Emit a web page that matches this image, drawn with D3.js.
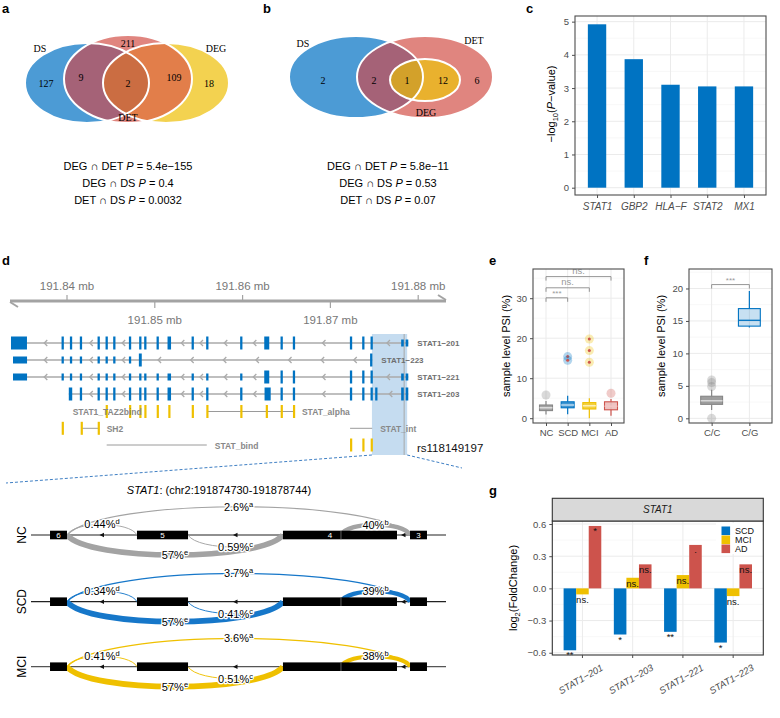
<!DOCTYPE html>
<html><head><meta charset="utf-8">
<script src="https://cdn.jsdelivr.net/npm/d3@7"></script>
<style>body{margin:0;background:#fff}svg{display:block}</style>
</head><body><svg id="fig" width="780" height="718"></svg>
<script>
// ================= DATA =================
// a / b : Venn counts
const vennRegionsA = ["DS","DET","DEG","DS∩DET","DEG∩DET","DS∩DEG∩DET"];
const vennCountsA  = [127, 211, 18, 9, 109, 2];
const vennRegionsB = ["DS","DS∩DET","DS∩DEG∩DET","DEG∩DET","DET"];
const vennCountsB  = [2, 2, 1, 12, 6];
const testPairs = ["DEG ∩ DET","DEG ∩ DS","DET ∩ DS"];
const pValuesA  = ["5.4e−155","0.4","0.0032"];
const pValuesB  = ["5.8e−11","0.53","0.07"];
// c : enrichment
const genesC   = ["STAT1","GBP2","HLA−F","STAT2","MX1"];
const negLogP  = [4.92, 3.87, 3.10, 3.05, 3.05];
// d : gene model (Mb)
const axisTicksTop    = [191.84, 191.86, 191.88];
const axisTicksBottom = [191.85, 191.87];
const transcriptNames = ["STAT1−201","STAT1−223","STAT1−221","STAT1−203"];
// exons: [centre Mb, length bp, coding 1/0]
const exons201 = [[191.83453,1820,1],[191.83951,260,1],[191.84046,260,1],[191.84159,260,1],[191.84361,260,1],[191.84452,260,1],[191.84539,260,1],[191.84718,260,1],[191.84835,260,1],[191.84892,260,1],[191.85033,260,1],[191.85165,400,1],[191.85432,260,1],[191.85598,260,1],[191.85985,260,1],[191.86275,570,1],[191.86445,260,1],[191.86585,260,1],[191.87235,260,1],[191.87375,260,1],[191.87470,260,1],[191.87821,300,0],[191.87872,300,0]];
const exons223 = [[191.83465,1600,0],[191.83951,260,0],[191.84046,260,0],[191.84159,260,0],[191.84361,260,0],[191.84452,260,0],[191.84539,260,0],[191.84718,260,0],[191.84835,330,1],[191.87465,260,1]];
const exons221 = [[191.83465,1600,0],[191.83951,260,0],[191.84046,260,0],[191.84159,260,0],[191.84361,260,0],[191.84452,260,0],[191.84539,260,0],[191.84718,260,0],[191.84835,260,0],[191.84892,260,0],[191.85033,260,0],[191.85165,400,0],[191.85432,260,0],[191.85598,260,0],[191.85985,260,0],[191.86275,570,1],[191.86445,260,1],[191.86585,260,1],[191.87235,260,1],[191.87375,260,1],[191.87470,260,1],[191.87821,300,0],[191.87872,300,0]];
const exons203 = [[191.84040,390,1],[191.84159,260,1],[191.84361,260,1],[191.84452,260,1],[191.84539,260,1],[191.84718,260,1],[191.84835,260,1],[191.84892,260,1],[191.85033,260,1],[191.85165,400,1],[191.85432,260,1],[191.85598,260,1],[191.85985,260,1],[191.86285,700,1],[191.86445,260,1],[191.86585,260,1],[191.87235,260,1],[191.87375,260,1],[191.87470,260,1],[191.87523,260,1],[191.87821,300,1],[191.87872,300,1]];
const domainNames = ["STAT1_TAZ2bind","STAT_alpha","SH2","STAT_int","STAT_bind",""];
const domainRows  = [0,0,1,1,2,2];
const domainParts = [
  [191.84452,191.84718,191.84835,191.84892,191.85033,191.85165,191.85432],
  [191.85598,191.85985,191.86275,191.86445,191.86585],
  [191.83951,191.84167,191.84361],
  [],
  [],
  [191.87235,191.87375,191.87470]];
const domainSpans = [null,[191.85598,191.86585],[191.84167,191.84361],[191.87224,191.87476],[191.84452,191.85592],null];
const highlightRegion = [191.874730, 191.878744];
const snpPos = 191.87840;
const snpName = "rs118149197";
// d : sashimi
const spliceGroups = ["NC","SCD","MCI"];
const spliceExonNames = ["6","5","4","3"];
const spliceExonStart = [191874914,191875755,191877167,191878396];
const spliceExonEnd   = [191875078,191876249,191878270,191878560];
const exon4Split = 191877728;
const junctionIds   = ["a","b","c","d","e"];
const junctionStart = [191875078,191877728,191876249,191875078,191875078];
const junctionEnd   = [191878396,191878396,191877167,191875755,191877167];
const junctionSide  = [-1,-1,1,-1,1];
const psiNC  = [2.6, 40, 0.59, 0.44, 57];
const psiSCD = [3.7, 39, 0.41, 0.34, 57];
const psiMCI = [3.6, 38, 0.51, 0.41, 57];
// e : PSI by diagnosis
const groupsE = ["NC","SCD","MCI","AD"];
const lowE  = [0.9, 1.0, 0.0, 0.6];
const q1E   = [1.9, 2.6, 2.3, 2.1];
const medE  = [2.6, 3.3, 3.1, 3.0];
const q3E   = [3.3, 4.1, 3.9, 4.1];
const highE = [4.3, 5.6, 5.0, 4.8];
const outE  = [[5.8],[15.4,14.5],[19.8,16.9,14.0],[6.25]];
const bracketsE = [["NC","SCD","***",30.1],["NC","MCI","ns.",32.6],["NC","AD","ns.",35.4]];
// f : PSI by genotype
const groupsF = ["C/C","C/G"];
const lowF  = [1.3, 14.0];
const q1F   = [2.15, 14.2];
const medF  = [2.7, 15.1];
const q3F   = [3.4, 16.9];
const highF = [4.4, 19.6];
const outF  = [[4.9,5.5,5.9,0],[]];
// g : fold change
const isoforms = ["STAT1−201","STAT1−203","STAT1−221","STAT1−223"];
const fcGroups = ["SCD","MCI","AD"];
const fcSCD = [-0.577,-0.430,-0.405,-0.505];
const fcMCI = [-0.056, 0.099, 0.124,-0.072];
const fcAD  = [ 0.582, 0.224, 0.405, 0.224];
const sigSCD = ["**","*","**","*"];
const sigMCI = ["ns.","ns.","ns.","ns."];
const sigAD  = ["*","ns.",".","ns."];

// ================= DRAWING =================
const SANS = "'Liberation Sans', Arial, Helvetica, sans-serif";
const SERIF = "'Liberation Serif', 'Times New Roman', serif";
const BLUE="#0073C2", YEL="#EFC000", GREY="#868686", RED="#CD534C";
const GRID="#ebebeb", GRIDMIN="#f4f4f4", AXC="#4d4d4d";
const svg = d3.select("#fig").attr("font-family",SANS);
const defs = svg.append("defs");

function plabel(t,x,y){svg.append("text").attr("x",x).attr("y",y).attr("font-weight","bold").attr("font-size",13).text(t);}
plabel("a",2,13); plabel("b",263,13); plabel("c",526,13); plabel("d",2,265);
plabel("e",489,265); plabel("f",644,265); plabel("g",489,495);

// ---------- Venn helpers ----------
function ell(g,e){return g.append("ellipse").attr("cx",e.cx).attr("cy",e.cy).attr("rx",e.rx).attr("ry",e.ry);}
function clip(id,e){ell(defs.append("clipPath").attr("id",id),e);}
function vtxt(g,x,y,t,size){return g.append("text").attr("x",x).attr("y",y).attr("text-anchor","middle").attr("font-family",SERIF).attr("font-size",size||10).text(t);}
function pLines(cx, vals){
  testPairs.forEach((p,i)=>{
    const t=svg.append("text").attr("x",cx).attr("y",170+i*16.8).attr("text-anchor","middle").attr("font-size",11);
    t.append("tspan").text(p+" ");
    t.append("tspan").attr("font-style","italic").text("P");
    t.append("tspan").text("  = "+vals[i]);
  });
}

// ---------- a ----------
const gA = svg.append("g");
const eA = {DS:{cx:87,cy:83,rx:62,ry:40},DET:{cx:128,cy:79,rx:64,ry:44},DEG:{cx:166,cy:83,rx:63,ry:40}};
clip("cA_DS",eA.DS); clip("cA_DEG",eA.DEG);
ell(gA,eA.DS).attr("fill","#4C9BD5");
ell(gA,eA.DEG).attr("fill","#F3D250");
ell(gA,eA.DET).attr("fill","#E0857F");
ell(gA.append("g").attr("clip-path","url(#cA_DS)"),eA.DET).attr("fill","#A56277");
ell(gA.append("g").attr("clip-path","url(#cA_DEG)"),eA.DET).attr("fill","#E27E4A");
ell(gA.append("g").attr("clip-path","url(#cA_DS)").append("g").attr("clip-path","url(#cA_DEG)"),eA.DET).attr("fill","#CB6D42");
[eA.DS,eA.DET,eA.DEG].forEach(e=>ell(gA,e).attr("fill","none").attr("stroke","#fff").attr("stroke-width",2));
const posA = {"DS":[46,87],"DET":[128,47],"DEG":[209,87],"DS∩DET":[81,81],"DEG∩DET":[174,81],"DS∩DEG∩DET":[128,87]};
vennRegionsA.forEach((r,i)=>vtxt(gA,posA[r][0],posA[r][1],vennCountsA[i]));
vtxt(gA,40,52,"DS"); vtxt(gA,216,52,"DEG"); vtxt(gA,128,121,"DET");
pLines(128,pValuesA);

// ---------- b ----------
const gB = svg.append("g");
const eB = {DS:{cx:356,cy:77,rx:67,ry:41},DET:{cx:425,cy:77,rx:68,ry:41},DEG:{cx:425,cy:80,rx:35,ry:21}};
clip("cB_DS",eB.DS);
ell(gB,eB.DS).attr("fill","#4C9BD5");
ell(gB,eB.DET).attr("fill","#E0857F");
ell(gB.append("g").attr("clip-path","url(#cB_DS)"),eB.DET).attr("fill","#A56277");
ell(gB,eB.DEG).attr("fill","#E9B12E");
ell(gB.append("g").attr("clip-path","url(#cB_DS)"),eB.DEG).attr("fill","#D3A12A");
[eB.DS,eB.DET,eB.DEG].forEach(e=>ell(gB,e).attr("fill","none").attr("stroke","#fff").attr("stroke-width",2));
const posB = {"DS":[323,84],"DS∩DET":[374,84],"DS∩DEG∩DET":[407,84],"DEG∩DET":[443,84],"DET":[477,84]};
vennRegionsB.forEach((r,i)=>vtxt(gB,posB[r][0],posB[r][1],vennCountsB[i]));
vtxt(gB,303,47,"DS"); vtxt(gB,474,44,"DET"); vtxt(gB,426,116,"DEG");
pLines(388,pValuesB);

// ---------- generic helpers for ggplot-like panels ----------
function styleAxis(sel,size){
  sel.select(".domain").remove();
  sel.selectAll(".tick line").attr("stroke",AXC);
  sel.selectAll(".tick text").attr("fill",AXC).attr("font-size",size||9.5).attr("font-family",SANS);
}
function grid(g,x0,x1,y0,y1,yScale,major,minor,xs){
  minor.forEach(v=>g.append("line").attr("x1",x0).attr("x2",x1).attr("y1",yScale(v)).attr("y2",yScale(v)).attr("stroke",GRIDMIN).attr("stroke-width",0.6));
  major.forEach(v=>g.append("line").attr("x1",x0).attr("x2",x1).attr("y1",yScale(v)).attr("y2",yScale(v)).attr("stroke",GRID).attr("stroke-width",1));
  xs.forEach(x=>g.append("line").attr("x1",x).attr("x2",x).attr("y1",y0).attr("y2",y1).attr("stroke",GRID).attr("stroke-width",1));
}
function border(g,x0,x1,y0,y1,c){g.append("rect").attr("x",x0).attr("y",y0).attr("width",x1-x0).attr("height",y1-y0).attr("fill","none").attr("stroke",c||AXC).attr("stroke-width",1.1);}
function ytitle(g,x,y,size){return g.append("text").attr("transform",`translate(${x},${y}) rotate(-90)`).attr("text-anchor","middle").attr("font-size",size||11);}

// ---------- c ----------
{
  const g=svg.append("g");
  const L=575,R=766,T=16,B=195;
  const x=d3.scalePoint().domain(genesC).range([L,R]).padding(0.6);
  const y=d3.scaleLinear().domain([-0.22,5.17]).range([B,T]);
  grid(g,L,R,T,B,y,[0,1,2,3,4,5],[0.5,1.5,2.5,3.5,4.5],genesC.map(x));
  const bw=x.step()*0.5;
  g.selectAll("rect.bar").data(genesC).join("rect").attr("x",d=>x(d)-bw/2).attr("width",bw)
   .attr("y",(d,i)=>y(negLogP[i])).attr("height",(d,i)=>y(0)-y(negLogP[i])).attr("fill",BLUE);
  border(g,L,R,T,B);
  const ay=g.append("g").attr("transform",`translate(${L},0)`).call(d3.axisLeft(y).tickValues([0,1,2,3,4,5]).tickFormat(d3.format("d")).tickSize(3).tickPadding(3));
  styleAxis(ay);
  const ax=g.append("g").attr("transform",`translate(0,${B})`).call(d3.axisBottom(x).tickSize(3).tickPadding(5));
  styleAxis(ax,10); ax.selectAll(".tick text").attr("font-style","italic");
  const t=ytitle(g,555,104,11);
  t.append("tspan").text("−log");
  t.append("tspan").attr("font-size",7.5).attr("dy",3).text("10");
  t.append("tspan").attr("dy",-3).text("(");
  t.append("tspan").attr("font-style","italic").text("P");
  t.append("tspan").text("−value)");
}

// ---------- d : gene model ----------
{
  const g=svg.append("g");
  const x=d3.scaleLinear().domain([191.84,191.88]).range([67,418.2]);
  g.append("rect").attr("x",x(highlightRegion[0])).attr("y",334).attr("width",x(highlightRegion[1])-x(highlightRegion[0])).attr("height",121).attr("fill","#c5dcf0");
  g.append("line").attr("x1",x(snpPos)).attr("x2",x(snpPos)).attr("y1",334).attr("y2",455).attr("stroke","#a8a8a8").attr("stroke-width",1);
  g.append("line").attr("x1",10).attr("x2",446).attr("y1",301).attr("y2",301).attr("stroke","#a3a3a3").attr("stroke-width",3);
  g.append("path").attr("d","M10,302 L18,307").attr("stroke","#a3a3a3").attr("stroke-width",2).attr("fill","none");
  g.append("path").attr("d","M438,295 L446,300").attr("stroke","#a3a3a3").attr("stroke-width",2).attr("fill","none");
  axisTicksTop.forEach(v=>{
    g.append("line").attr("x1",x(v)).attr("x2",x(v)).attr("y1",295).attr("y2",301).attr("stroke","#a3a3a3").attr("stroke-width",1.2);
    g.append("text").attr("x",x(v)).attr("y",290).attr("text-anchor","middle").attr("font-size",11.5).attr("fill","#777").text(v.toFixed(2)+" mb");
  });
  axisTicksBottom.forEach(v=>{
    g.append("line").attr("x1",x(v)).attr("x2",x(v)).attr("y1",301).attr("y2",308).attr("stroke","#a3a3a3").attr("stroke-width",1.2);
    g.append("text").attr("x",x(v)).attr("y",324).attr("text-anchor","middle").attr("font-size",11.5).attr("fill","#777").text(v.toFixed(2)+" mb");
  });
  const allEx=[exons201,exons223,exons221,exons203];
  const rowY=[343,360,377,394];
  const bpMb=1e-6;
  allEx.forEach((ex,r)=>{
    const yc=rowY[r];
    const s=ex.map(e=>x(e[0]-e[1]*bpMb/2)), en=ex.map(e=>x(e[0]+e[1]*bpMb/2));
    g.append("line").attr("x1",s[0]).attr("x2",en[en.length-1]).attr("y1",yc).attr("y2",yc).attr("stroke","#aaa").attr("stroke-width",1.4);
    for(let i=0;i<ex.length-1;i++){
      const gap=s[i+1]-en[i];
      if(gap>12){
        const n=Math.max(1,Math.floor(gap/30));
        for(let k=0;k<n;k++){
          const cx=en[i]+gap*(k+0.5)/n;
          g.append("path").attr("d",`M${cx+3},${yc-3} L${cx},${yc} L${cx+3},${yc+3}`).attr("stroke","#aaa").attr("stroke-width",1.3).attr("fill","none");
        }
      }
    }
    ex.forEach((e,i)=>{
      const h=e[2]?13:7;
      g.append("rect").attr("x",s[i]).attr("y",yc-h/2).attr("width",Math.max(2,en[i]-s[i])).attr("height",h).attr("fill",BLUE);
    });
    g.append("text").attr("x",en[en.length-1]+9).attr("y",yc+3).attr("font-size",8).attr("font-weight","bold").attr("fill","#6e6e6e").text(transcriptNames[r]);
  });
  const domY=[411.5,428.3,445];
  domainNames.forEach((nm,i)=>{
    const yc=domY[domainRows[i]];
    const sp=domainSpans[i];
    if(sp) g.append("line").attr("x1",x(sp[0])).attr("x2",x(sp[1])).attr("y1",yc).attr("y2",yc).attr("stroke","#9a9a9a").attr("stroke-width",1);
    domainParts[i].forEach(p=>g.append("rect").attr("x",x(p)-1).attr("y",yc-6.5).attr("width",2.2).attr("height",13).attr("fill",YEL));
    if(nm){
      let lx;
      if(i===0) lx=x(domainParts[i][0])-34;
      else { const end = sp ? Math.max(x(sp[1]), ...domainParts[i].map(x)) : d3.max(domainParts[i].map(x)); lx=end+8; }
      g.append("text").attr("x",lx).attr("y",yc+3.5).attr("font-size",8.5).attr("font-weight","bold").attr("fill","#888").text(nm);
    }
  });
  g.append("text").attr("x",417).attr("y",452).attr("font-size",11.5).attr("fill","#111").text(snpName);
  g.append("line").attr("x1",x(highlightRegion[0])).attr("y1",455).attr("x2",6).attr("y2",483).attr("stroke","#3f7fc4").attr("stroke-dasharray","3,2").attr("stroke-width",1);
  g.append("line").attr("x1",x(highlightRegion[1])).attr("y1",455).attr("x2",462).attr("y2",468).attr("stroke","#3f7fc4").attr("stroke-dasharray","3,2").attr("stroke-width",1);
}

// ---------- d : sashimi ----------
{
  const g=svg.append("g");
  const x=d3.scaleLinear().domain([191874730,191878744]).range([31,446]);
  const t=g.append("text").attr("x",219).attr("y",494).attr("text-anchor","middle").attr("font-size",11);
  t.append("tspan").attr("font-style","italic").text("STAT1");
  t.append("tspan").text(": (chr2:191874730-191878744)");
  const trackY=[535,601.7,666.7];
  const arcCol=["#a3a3a3","#1677c9",YEL];
  const psis=[psiNC,psiSCD,psiMCI];
  spliceGroups.forEach((grp,r)=>{
    const y0=trackY[r];
    g.append("line").attr("x1",31).attr("x2",446).attr("y1",y0).attr("y2",y0).attr("stroke",r===2?"#555":"#222").attr("stroke-width",1.2);
    for(let i=0;i<spliceExonStart.length-1;i++){
      const cx=(x(spliceExonEnd[i])+x(spliceExonStart[i+1]))/2;
      g.append("path").attr("d",`M${cx-2.5},${y0} L${cx+2},${y0-2.3} L${cx+2},${y0+2.3} Z`).attr("fill","#111");
    }
    junctionIds.forEach((id,j)=>{
      const x1=x(junctionStart[j]), x2=x(junctionEnd[j]);
      const h=junctionSide[j]*(6+(x2-x1)*0.065);
      const dx=x2-x1;
      const w=0.9+psis[r][j]*0.085;
      g.append("path").attr("d",`M${x1},${y0} C${x1+dx*0.1},${y0+h*1.33} ${x2-dx*0.1},${y0+h*1.33} ${x2},${y0}`)
        .attr("fill","none").attr("stroke",arcCol[r]).attr("stroke-width",w);
    });
    spliceExonStart.forEach((s,i)=>{
      g.append("rect").attr("x",x(s)).attr("y",y0-4.3).attr("width",x(spliceExonEnd[i])-x(s)).attr("height",8.6).attr("fill","#000");
      if(r===0) g.append("text").attr("x",(x(s)+x(spliceExonEnd[i]))/2+(i===2?-10:0)).attr("y",y0+3).attr("text-anchor","middle").attr("font-size",8).attr("fill","#fff").text(spliceExonNames[i]);
    });
    g.append("line").attr("x1",x(exon4Split)).attr("x2",x(exon4Split)).attr("y1",y0-4.3).attr("y2",y0+4.3).attr("stroke","#777").attr("stroke-width",0.8);
    junctionIds.forEach((id,j)=>{
      const x1=x(junctionStart[j]), x2=x(junctionEnd[j]);
      const h=junctionSide[j]*(6+(x2-x1)*0.065);
      const lt=g.append("text").attr("x",(x1+x2)/2).attr("y",y0+h+4).attr("text-anchor","middle").attr("font-size",11)
        .attr("stroke","#fff").attr("stroke-width",2.5).attr("paint-order","stroke").attr("stroke-linejoin","round");
      lt.append("tspan").text(psis[r][j]+"%");
      lt.append("tspan").attr("dy",-4).attr("font-size",7.5).text(id);
    });
    ytitle(g,26,y0,12).text(grp);
  });
}

// ---------- e & f : box plots ----------
function boxPanel(cfg){
  const g=svg.append("g");
  const {L,R,T,B,groups,dom,major,minor,low,q1,med,q3,high,outs,cols,bwf,fillOp,medCol,title,titleX}=cfg;
  const x=d3.scalePoint().domain(groups).range([L,R]).padding(0.6);
  const y=d3.scaleLinear().domain(dom).range([B,T]);
  grid(g,L,R,T,B,y,major,minor,groups.map(x));
  const bw=x.step()*bwf;
  groups.forEach((k,i)=>{
    const cx=x(k), c=cols[i];
    g.append("line").attr("x1",cx).attr("x2",cx).attr("y1",y(high[i])).attr("y2",y(q3[i])).attr("stroke",c).attr("stroke-width",1.2);
    g.append("line").attr("x1",cx).attr("x2",cx).attr("y1",y(q1[i])).attr("y2",y(low[i])).attr("stroke",c).attr("stroke-width",1.2);
    g.append("rect").attr("x",cx-bw/2).attr("y",y(q3[i])).attr("width",bw).attr("height",y(q1[i])-y(q3[i]))
      .attr("fill",c).attr("fill-opacity",fillOp[i]).attr("stroke",c).attr("stroke-width",1.1);
    g.append("line").attr("x1",cx-bw/2).attr("x2",cx+bw/2).attr("y1",y(med[i])).attr("y2",y(med[i])).attr("stroke",medCol[i]).attr("stroke-width",1.3);
    outs[i].forEach(v=>{
      g.append("circle").attr("cx",cx).attr("cy",y(v)).attr("r",4.5).attr("fill",c).attr("fill-opacity",0.3);
      if(cfg.dots && cfg.dots[i]) g.append("circle").attr("cx",cx).attr("cy",y(v)).attr("r",1.5).attr("fill",RED);
    });
  });
  (cfg.brackets||[]).forEach(b=>{
    const xa=x(b[0]), xb=x(b[1]), yy=y(b[3]);
    g.append("path").attr("d",`M${xa},${yy+4} L${xa},${yy} L${xb},${yy} L${xb},${yy+4}`).attr("fill","none").attr("stroke","#8a8a8a").attr("stroke-width",0.9);
    g.append("text").attr("x",(xa+xb)/2).attr("y",yy-(b[2]==="***"?2:3)).attr("text-anchor","middle").attr("font-size",b[2]==="***"?8:9.5).attr("fill","#9a9a9a").text(b[2]);
  });
  border(g,L,R,T,B);
  const ay=g.append("g").attr("transform",`translate(${L},0)`).call(d3.axisLeft(y).tickValues(major.filter(v=>v>=dom[0]&&v<=dom[1])).tickFormat(d3.format("d")).tickSize(3).tickPadding(3));
  styleAxis(ay);
  const ax=g.append("g").attr("transform",`translate(0,${B})`).call(d3.axisBottom(x).tickSize(3).tickPadding(3));
  styleAxis(ax);
  ytitle(g,titleX,(T+B)/2,11).text(title);
}
boxPanel({L:533,R:624,T:269,B:423,groups:groupsE,dom:[-1.2,37.3],major:[0,10,20,30],minor:[5,15,25,35],
  low:lowE,q1:q1E,med:medE,q3:q3E,high:highE,outs:outE,cols:[GREY,BLUE,YEL,RED],bwf:0.6,
  fillOp:[0.75,0.75,0.75,0.35],medCol:["#e6e6e6","#cfe3f5","#fff6cc","#f4c6c4"],dots:[0,1,1,0],
  brackets:bracketsE,title:"sample level PSI (%)",titleX:510});
boxPanel({L:689,R:772,T:269,B:423,groups:groupsF,dom:[-0.72,23],major:[0,5,10,15,20],minor:[2.5,7.5,12.5,17.5,22.5],
  low:lowF,q1:q1F,med:medF,q3:q3F,high:highF,outs:outF,cols:[GREY,BLUE],bwf:0.58,
  fillOp:[0.8,0.22],medCol:["#e0e0e0",BLUE],dots:[0,0],
  brackets:[["C/C","C/G","***",20.6]],title:"sample level PSI (%)",titleX:665});

// ---------- g : fold change ----------
{
  const g=svg.append("g");
  const L=552.3,R=763.3,T=521,B=655;
  const x=d3.scalePoint().domain(isoforms).range([L,R]).padding(0.6);
  const y=d3.scaleLinear().domain([-0.621,0.628]).range([B,T]);
  grid(g,L,R,T,B,y,[-0.6,-0.3,0,0.3,0.6],[-0.45,-0.15,0.15,0.45],isoforms.map(x));
  const bw=x.step()*0.25;
  const vals=[fcSCD,fcMCI,fcAD], sigs=[sigSCD,sigMCI,sigAD], cols=[BLUE,YEL,RED];
  const off=d3.scalePoint().domain(fcGroups).range([-bw,bw]);
  fcGroups.forEach((grp,k)=>{
    isoforms.forEach((iso,i)=>{
      const v=vals[k][i], cx=x(iso)+off(grp);
      g.append("rect").attr("x",cx-bw/2).attr("width",bw).attr("y",y(Math.max(0,v))).attr("height",Math.abs(y(v)-y(0))).attr("fill",cols[k]);
    });
  });
  fcGroups.forEach((grp,k)=>{
    isoforms.forEach((iso,i)=>{
      const v=vals[k][i], cx=x(iso)+off(grp);
      g.append("text").attr("x",cx).attr("y",y(v)+(sigs[k][i]==="ns."?9:8)).attr("text-anchor","middle").attr("font-size",9.5).attr("fill","#111").text(sigs[k][i]);
    });
  });
  border(g,L,R,T,B,"#333");
  g.append("rect").attr("x",L).attr("y",498.3).attr("width",R-L).attr("height",T-498.3).attr("fill","#d9d9d9").attr("stroke","#333").attr("stroke-width",1.1);
  g.append("text").attr("x",(L+R)/2).attr("y",513).attr("text-anchor","middle").attr("font-size",10).attr("font-style","italic").attr("fill","#1a1a1a").text("STAT1");
  g.append("rect").attr("x",716).attr("y",523).attr("width",46).attr("height",31).attr("fill","#fff");
  fcGroups.forEach((grp,k)=>{
    g.append("rect").attr("x",721.5).attr("y",526.5+k*9).attr("width",8.6).attr("height",8.6).attr("fill",cols[k]);
    g.append("text").attr("x",735).attr("y",534+k*9).attr("font-size",9).attr("fill","#111").text(grp);
  });
  const ay=g.append("g").attr("transform",`translate(${L},0)`).call(d3.axisLeft(y).tickValues([-0.6,-0.3,0,0.3,0.6]).tickFormat(d3.format(".1f")).tickSize(3).tickPadding(3));
  styleAxis(ay);
  isoforms.forEach(iso=>{
    g.append("line").attr("x1",x(iso)).attr("x2",x(iso)).attr("y1",B).attr("y2",B+3).attr("stroke",AXC);
    g.append("text").attr("transform",`translate(${x(iso)},${B+27}) rotate(-30)`).attr("text-anchor","middle").attr("font-size",9.5).attr("font-style","italic").attr("fill",AXC).text(iso);
  });
  const t=ytitle(g,517,588,11);
  t.append("tspan").text("log");
  t.append("tspan").attr("font-size",7.5).attr("dy",3).text("2");
  t.append("tspan").attr("dy",-3).text("(FoldChange)");
}
</script></body></html>
